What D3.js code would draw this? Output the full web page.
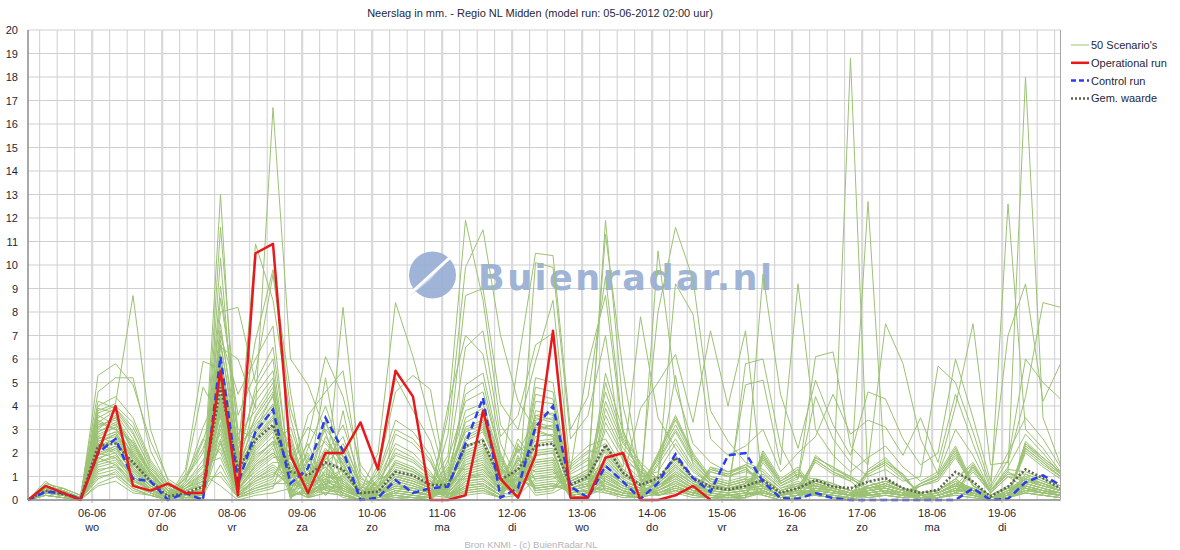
<!DOCTYPE html>
<html>
<head>
<meta charset="utf-8">
<script src="https://cdn.jsdelivr.net/npm/d3@7"></script>
<style>
body { margin: 0; background: #fff; }
svg { display: block; font-family: "Liberation Sans", Arial, sans-serif; }
</style>
</head>
<body>
<svg id="chart" width="1180" height="550"></svg>
<script>
const svg = d3.select("#chart");

const title = "Neerslag in mm. - Regio NL Midden (model run: 05-06-2012 02:00 uur)";
const footer = "Bron KNMI - (c) BuienRadar.NL";
const runStart = new Date(Date.UTC(2012, 5, 5, 2));
const runEnd = new Date(Date.UTC(2012, 5, 19, 20));
const stepHours = 6;

const dayLabels = ["06-06", "07-06", "08-06", "09-06", "10-06", "11-06", "12-06",
                   "13-06", "14-06", "15-06", "16-06", "17-06", "18-06", "19-06"];
const weekdays = ["wo", "do", "vr", "za", "zo", "ma", "di", "wo", "do", "vr", "za", "zo", "ma", "di"];
const yTicks = [0, 1, 2, 3, 4, 5, 6, 7, 8, 9, 10, 11, 12, 13, 14, 15, 16, 17, 18, 19, 20];

const legendNames = ["50 Scenario's", "Operational run", "Control run", "Gem. waarde"];

// operational run (stops after ~10 days)
const operational = [0, 0.6, 0.3, 0, 2.0, 4.0, 0.6, 0.4, 0.7, 0.3, 0.3, 5.5, 0.2, 10.5, 10.9, 1.9, 0.3, 2.0, 2.0, 3.3,
                     1.3, 5.5, 4.4, 0, 0, 0.2, 3.8, 0.9, 0.1, 1.9, 7.2, 0.1, 0.1, 1.8, 2.0, 0, 0, 0.2, 0.6, 0];

const control = [0, 0.35, 0.3, 0.05, 2.0, 2.6, 0.9, 0.8, 0, 0.3, 0, 6.1, 0.7, 2.9, 3.85, 0.7, 1.35, 3.5, 2.1, 0,
                 0.1, 0.85, 0.3, 0.5, 0.57, 2.4, 4.35, 0.1, 0.5, 3.1, 4.0, 0.57, 0.1, 1.45, 0.78, 0.05, 0.72, 1.95, 0.93, 0.35,
                 1.9, 2.0, 0.78, 0.08, 0.05, 0.3, 0.08, 0, 0, 0, 0, 0, 0, 0, 0.5, 0, 0.05, 0.75, 1.05, 0.63];

const meanValues = [0, 0.4, 0.25, 0.05, 2.3, 2.4, 1.6, 0.8, 0.15, 0.3, 0.57, 4.8, 1.3, 2.55, 3.2, 1.2, 1.05, 1.6, 1.3, 0.3,
                    0.35, 1.2, 1.05, 0.64, 0.64, 2.3, 2.5, 0.85, 1.3, 2.3, 2.4, 0.64, 1.0, 2.35, 1.15, 0.64, 0.93, 1.8, 0.93, 0.57,
                    0.43, 0.6, 0.85, 0.3, 0.5, 0.85, 0.57, 0.5, 0.78, 0.93, 0.5, 0.3, 0.43, 1.2, 0.78, 0.15, 0.57, 1.3, 0.93, 0.5];

// 50 scenario values per 6-hour step (one inner array per step)
const scenarioSteps = [
  [0,0,0,0,0,0,0,0,0,0, 0,0,0,0,0,0,0,0,0,0, 0,0,0,0,0,0,0,0,0,0, 0,0,0,0,0,0,0,0,0,0, 0,0,0,0,0,0,0,0,0,0],
  [0.4,0.5,0.3,0.6,0.2,0.4,0.8,0.3,0.5,0.4, 0.3,0.6,0.4,0.2,0.5,0.7,0.3,0.4,0.5,0.3, 0.4,0.2,0.6,0.5,0.3,0.4,0.7,0.4,0.3,0.5, 0.2,0.4,0.5,0.3,0.6,0.4,0.3,0.5,0.4,0.2, 0.5,0.3,0.4,0.6,0.3,0.4,0.5,0.2,0.4,0.3],
  [0.3,0.2,0.4,0.3,0.1,0.5,0.3,0.2,0.4,0.3, 0.2,0.4,0.3,0.1,0.3,0.5,0.2,0.3,0.4,0.2, 0.3,0.1,0.4,0.3,0.2,0.3,0.5,0.3,0.2,0.4, 0.1,0.3,0.4,0.2,0.4,0.3,0.2,0.3,0.3,0.1, 0.4,0.2,0.3,0.4,0.2,0.3,0.4,0.1,0.3,0.2],
  [0,0.1,0,0.1,0,0.2,0,0,0.1,0, 0.1,0,0,0,0.1,0.2,0,0.1,0,0, 0,0,0.1,0,0,0.1,0.2,0,0,0.1, 0,0,0.1,0,0.1,0,0,0.1,0,0, 0.1,0,0,0.1,0,0,0.1,0,0,0],
  [2.5,3.1,1.8,4.2,1.2,2.9,5.3,2.0,3.4,2.2, 1.6,3.8,2.7,0.9,3.0,4.6,1.4,2.4,3.3,1.9, 2.6,0.7,3.6,2.8,1.5,2.1,4.0,2.3,1.7,3.2, 1.1,2.5,3.5,1.8,3.9,2.4,1.3,2.9,2.2,0.6, 3.3,1.9,2.6,3.7,1.6,2.3,3.1,1.0,2.7,2.0],
  [2.8,3.5,2.0,3.9,1.5,3.3,5.8,1.8,3.0,2.6, 1.9,4.1,2.4,1.2,3.6,5.2,1.6,2.1,3.8,2.3, 2.9,1.0,3.2,3.1,1.7,2.5,4.4,2.0,2.2,3.4, 1.3,2.7,3.9,1.5,3.7,2.8,1.4,3.2,2.5,0.8, 3.0,2.2,2.9,4.0,1.8,2.6,3.5,1.1,3.1,2.3],
  [1.5,2.2,0.9,3.1,0.6,1.8,4.9,0.8,2.5,1.4, 1.0,8.7,1.6,0.5,2.0,5.2,0.7,1.2,2.8,1.1, 1.7,0.4,2.4,1.9,0.9,1.3,3.5,1.0,1.4,2.1, 0.6,1.5,2.9,0.8,2.6,1.7,0.7,2.3,1.6,0.3, 2.0,1.2,1.8,3.3,1.0,1.4,2.4,0.5,1.9,1.3],
  [0.7,1.1,0.4,1.5,0.3,0.9,2.5,0.5,1.2,0.6, 0.4,3.0,0.8,0.2,1.0,2.1,0.3,0.6,1.4,0.5, 0.8,0.2,1.1,0.9,0.4,0.6,1.7,0.5,0.7,1.0, 0.3,0.7,1.3,0.4,1.2,0.8,0.3,1.1,0.7,0.2, 0.9,0.5,0.8,1.6,0.4,0.6,1.2,0.2,0.9,0.6],
  [0.2,0.4,0.1,0.5,0,0.3,0.9,0.1,0.4,0.2, 0.1,0.8,0.3,0,0.3,0.6,0.1,0.2,0.5,0.1, 0.3,0,0.4,0.3,0.1,0.2,0.7,0.1,0.2,0.4, 0,0.2,0.5,0.1,0.4,0.3,0,0.3,0.2,0, 0.3,0.1,0.3,0.6,0.1,0.2,0.4,0,0.3,0.2],
  [0.3,0.1,0.5,0.2,0.8,0.1,0.4,1.3,0.2,0.6, 0,0.3,0.9,0.2,0.1,0.4,1.1,0.3,0.2,0.7, 0.1,0.5,0.2,0,0.6,0.3,0.2,0.8,0.1,0.4, 0.7,0.2,0.1,0.5,0,0.3,1.0,0.2,0.4,0.6, 0.1,0.3,0.2,0,0.5,0.9,0.1,0.4,0.2,0.3],
  [0.4,0.2,1.1,0.3,2.5,0.1,0.6,5.9,0.3,1.4, 0.1,0.5,2.0,0.2,0.3,0.8,4.8,0.4,0.2,1.7, 0.1,1.0,0.3,0,1.2,0.4,0.2,3.1,0.1,0.7, 1.5,0.3,0.2,0.9,0,0.5,2.6,0.2,0.6,1.1, 0.1,0.4,0.3,0,0.8,2.2,0.1,0.6,0.3,0.5],
  [4.5,6.2,3.8,7.5,5.0,3.2,9.1,5.6,4.1,6.8, 2.5,13.0,4.8,1.5,5.9,8.0,3.5,4.3,11.6,2.8, 5.2,1.0,6.5,4.0,2.2,3.6,10.3,4.7,3.0,5.4, 1.8,4.4,7.0,2.6,6.0,4.9,2.0,5.5,3.9,0.6, 6.6,3.3,5.1,8.6,2.4,4.2,7.2,1.2,5.8,3.7],
  [0.8,1.5,0.4,2.1,0.6,0.3,3.0,1.0,0.5,1.8, 0.2,0.6,1.2,0.1,1.6,8.2,0.5,0.9,2.5,0.3, 1.3,0.1,6.0,0.7,0.2,0.4,1.4,1.1,0.3,2.2, 0.1,0.8,4.5,0.2,1.9,0.9,0.2,1.7,0.6,0, 2.4,0.4,1.0,3.6,0.2,0.7,2.8,0.1,1.5,0.5],
  [1.8,3.2,1.0,4.5,2.2,0.8,2.6,3.0,1.4,10.9, 0.5,1.9,3.6,0.3,2.8,5.0,1.2,2.4,6.8,0.9, 2.7,0.4,3.9,2.0,0.7,1.5,4.2,2.9,1.1,3.3, 0.6,2.1,6.0,0.8,3.5,2.3,0.5,4.8,1.6,0.2, 3.0,1.3,2.5,5.4,0.9,1.7,3.8,0.4,2.6,1.5],
  [2.5,4.0,1.5,5.5,3.0,1.2,3.5,4.5,2.0,8.5, 0.8,2.4,4.8,0.5,3.8,6.5,1.8,3.2,9.8,1.4, 3.6,0.6,16.7,2.7,1.0,2.2,5.2,3.9,1.6,4.4, 0.9,2.9,7.4,1.1,4.6,3.1,0.7,6.0,2.3,0.3, 4.1,1.9,3.4,9.6,1.3,2.5,5.0,0.6,3.5,2.0],
  [0.3,2.1,0.9,0.2,1.7,0.6,2.4,0.1,1.2,3.5, 1.5,0.4,0.1,2.8,0.7,1.1,1.9,0.3,4.6,0.8, 0.2,1.3,6.0,0.5,2.2,0.1,0.9,0.4,1.6,1.0, 2.6,0.2,0.6,1.8,0,1.4,0.7,0.3,3.1,0.5, 0.9,1.2,0.2,3.9,0.6,2.0,0.1,1.1,0.4,1.3],
  [0.9,0.2,1.6,0.4,3.1,1.0,0.3,2.2,0.1,0.7, 0.5,1.8,0.6,0.2,1.3,0.1,0.8,2.6,0.3,1.5, 0.4,0.1,4.9,1.1,0.2,0.9,1.9,0.6,0.3,3.6, 0.1,1.2,0.7,0.2,1.7,0.5,0.4,1.0,0.8,0.1, 2.0,0.6,0.3,1.4,0.9,0.2,0.5,2.4,0.1,0.7],
  [1.4,0.6,3.0,0.3,2.4,1.9,0.8,4.0,0.5,1.1, 2.7,0.4,1.6,0.9,0.2,1.3,2.1,6.1,0.7,0.5, 1.8,0.3,2.9,1.5,0.6,2.2,0.4,1.0,0.8,4.6, 0.3,1.7,5.2,0.6,2.5,0.9,1.2,0.4,3.4,0.7, 1.0,2.0,0.5,1.4,0.2,0.8,3.3,0.6,1.6,0.9],
  [0.7,1.3,2.1,0.2,1.6,3.2,0.5,1.8,0.3,0.9, 1.5,0.6,0.8,0.3,1.0,0.4,1.9,4.4,0.2,0.6, 1.2,0.5,0.7,2.4,8.2,1.4,0.3,0.8,0.4,5.5, 0.2,2.7,1.0,0.5,1.7,0.6,0.4,3.8,1.2,0.3, 0.9,0.2,2.2,0.5,1.1,0.7,1.5,0.1,0.6,1.3],
  [0.1,0.3,0.6,0,0.2,0.9,0.1,0.5,0,0.2, 0.4,0.1,0.2,0,0.3,0.1,0.7,1.5,0,0.2, 0.3,0.1,0.2,0.8,1.2,0.4,0,0.2,0.1,1.0, 0,0.6,0.3,0.1,0.5,0.2,0.1,0.4,0.3,0, 0.2,0,0.6,0.1,0.3,0.2,0.4,0,0.1,0.3],
  [0.4,0.1,0.3,0.9,0,0.6,0.2,1.1,0.1,0.3, 0.2,0.8,0.1,0.4,0.6,0,0.3,0.5,1.3,0.1, 0.7,0.2,0.1,0.4,0.3,2.0,0.1,0.5,0.2,0.3, 1.5,0.1,0.2,0.6,0,0.4,0.9,0.1,0.3,0.8, 0.1,0.5,0.2,0,1.0,0.3,0.2,0.6,0.4,0.1],
  [1.0,0.3,1.6,2.4,0.2,1.2,0.6,3.4,0.4,0.8, 0.5,1.9,0.3,1.1,2.2,0.1,0.9,1.3,4.6,0.4, 1.5,0.7,0.2,1.0,0.6,8.4,0.3,1.7,0.5,0.9, 5.2,0.2,0.8,1.4,0.1,2.8,1.1,0.4,0.7,2.0, 0.3,1.6,0.5,0.2,3.0,0.9,0.6,1.2,1.0,0.4],
  [0.8,0.2,1.3,2.0,0.1,1.0,0.5,2.9,0.3,0.6, 0.4,1.6,0.2,0.9,1.8,0.1,0.7,1.1,5.3,0.3, 1.2,0.5,0.1,0.8,0.4,6.1,0.2,1.4,0.4,0.7, 3.8,0.1,0.6,1.2,0,2.4,0.9,0.3,0.5,1.7, 0.2,1.3,0.4,0.1,2.6,0.7,0.5,1.0,0.8,0.3],
  [0.5,0.1,0.8,1.2,0,0.6,0.3,1.9,0.2,0.4, 0.2,1.0,0.1,0.5,1.1,0,0.4,0.6,4.7,0.2, 0.7,0.3,0.1,0.5,0.2,3.3,0.1,0.9,0.2,0.4, 2.5,0.1,0.3,0.8,0,1.6,0.6,0.2,0.3,1.0, 0.1,0.8,0.2,0,1.7,0.4,0.3,0.6,0.5,0.2],
  [0.2,0.9,0.4,0.1,1.3,0.3,0.7,0.1,3.6,0.5, 0.1,0.6,1.1,0.2,0.4,0.8,0.1,1.5,0.3,0.6, 0.9,0.2,0.4,0.1,2.8,0.5,1.0,0.2,0.7,0.3, 0.1,1.7,0.5,0.2,0.6,0.1,1.9,0.4,0.8,0.2, 0.5,0.3,4.0,1.2,0.1,0.6,0.3,0.9,0.2,1.4],
  [0.9,2.6,1.5,0.4,3.8,1.1,2.2,0.6,11.9,1.7, 0.3,2.0,3.3,0.8,1.3,4.9,0.5,6.5,1.0,2.5, 3.1,0.7,1.6,0.2,9.9,1.4,2.9,0.5,1.9,1.2, 0.6,4.2,2.3,1.0,3.5,0.4,8.7,1.8,0.9,2.7, 1.5,0.3,7.0,3.0,0.8,2.1,1.1,4.5,0.6,1.3],
  [1.1,3.0,1.8,0.5,4.1,1.3,2.6,0.7,8.5,2.0, 0.4,2.3,3.7,0.9,1.5,5.4,0.6,7.2,1.2,2.9, 3.4,0.8,1.9,0.3,11.5,1.6,3.2,0.6,2.2,1.4, 0.7,4.6,2.6,1.1,3.9,0.5,9.0,2.1,1.0,3.1, 1.7,0.4,6.2,3.3,0.9,2.4,1.3,5.0,0.7,1.5],
  [0.4,1.2,0.7,0.1,1.7,0.5,1.0,0.2,3.2,0.8, 0.1,0.9,1.5,0.3,0.6,2.0,0.2,2.7,0.5,1.1, 1.4,0.3,0.7,0.1,7.0,0.6,1.3,0.2,0.9,0.5, 0.2,1.9,1.0,0.4,1.6,0.1,4.1,0.8,0.3,1.2, 0.6,0.1,2.4,1.3,0.3,0.9,0.4,1.8,0.2,0.5],
  [1.5,0.4,0.9,2.2,0.6,1.7,0.3,1.1,2.0,0.5, 1.9,0.8,0.2,1.3,2.6,0.4,1.0,3.6,0.6,0.3, 0.7,2.4,0.5,1.2,4.2,0.2,0.9,1.8,5.8,0.4, 1.4,0.3,2.1,0.7,0.5,1.6,3.0,0.9,0.2,1.1, 2.3,0.2,0.8,0.4,1.3,0.6,1.7,0.3,0.9,0.5],
  [1.2,3.3,1.9,0.4,4.5,1.4,2.7,0.6,3.5,2.1, 0.3,2.4,3.8,0.9,1.6,5.2,0.5,6.6,1.1,2.9, 3.0,0.8,1.9,0.2,3.0,1.5,3.4,0.5,10.5,1.3, 0.6,4.8,2.5,1.0,3.6,0.4,5.9,2.0,0.9,3.1, 1.7,10.1,3.6,3.2,0.7,2.3,1.2,4.2,0.5,1.6],
  [1.3,3.1,2.0,0.5,4.3,1.5,2.8,0.7,3.3,2.2, 0.4,2.5,3.6,1.0,1.7,5.0,0.6,7.1,1.2,2.7, 3.2,0.9,2.0,0.3,2.7,1.6,3.5,0.6,10.4,1.4, 0.7,4.6,2.6,1.1,3.7,0.5,8.5,2.1,1.0,3.0, 1.8,9.9,3.4,3.0,0.8,2.4,1.3,4.1,0.6,1.7],
  [0.3,0.5,0.1,1.5,0.4,0.2,0.7,0.3,0.6,0.1, 1.3,0.4,0.2,0.8,1.6,0.3,0.5,0.9,0.1,0.4, 0.6,1.2,0.2,0.7,0.3,0.1,0.8,0.4,3.0,0.2, 0.5,0.1,0.6,1.4,0.3,0.7,1.3,0.2,0.4,0.5, 0.1,2.6,0.6,0.3,0.8,1.1,0.2,0.4,0.9,0.3],
  [0.5,0.8,0.2,2.1,0.6,0.3,1.0,0.4,0.9,0.2, 1.8,0.6,0.3,1.1,2.3,0.4,0.7,1.3,0.2,0.6, 0.9,1.7,0.3,1.0,0.4,0.2,1.2,0.6,4.4,0.3, 0.7,0.2,0.9,2.0,0.4,1.0,5.8,0.3,0.6,0.7, 0.2,3.6,0.9,0.4,1.1,1.5,0.3,0.6,1.3,0.4],
  [3.6,1.2,0.5,2.0,0.8,1.5,4.2,0.6,2.3,1.0, 0.4,1.8,5.0,0.9,2.6,0.3,1.4,11.3,0.7,3.9, 1.1,0.5,2.2,11.9,1.6,0.8,4.6,0.4,9.5,1.3, 0.6,3.3,1.0,2.4,0.5,1.7,8.7,0.9,5.4,0.3, 1.9,7.0,0.7,1.2,2.1,0.4,1.5,3.0,0.8,1.1],
  [2.0,0.7,0.3,1.1,0.4,0.8,2.4,0.3,1.2,0.5, 0.2,1.0,2.6,0.5,1.4,0.1,0.8,5.5,0.4,2.2, 0.6,0.3,1.2,4.0,0.9,0.4,2.5,0.2,3.0,0.7, 0.3,1.9,0.6,1.3,0.3,0.9,2.8,0.5,2.9,0.2, 1.0,1.6,0.4,0.7,1.1,0.2,0.8,1.7,0.4,0.6],
  [1.3,0.4,0.1,0.6,0.2,0.5,1.5,0.2,0.7,0.3, 0.1,0.6,1.6,0.3,7.8,0.1,0.5,1.0,0.2,1.4, 0.4,0.2,0.7,0.9,0.5,0.2,1.2,0.1,0.8,0.4, 0.2,1.1,0.3,0.8,0.2,3.9,1.0,0.3,1.5,0.1, 0.6,0.9,0.2,0.4,0.7,0.1,0.5,1.2,0.2,0.3],
  [0.4,0.7,1.9,0.3,0.9,0.2,0.5,0.8,1.7,0.4, 0.6,0.2,0.9,0.3,3.5,0.6,2.0,1.0,10.6,0.5, 0.3,0.8,1.8,0.6,0.2,0.4,0.9,0.3,0.7,1.6, 0.5,0.2,0.8,8.0,0.4,5.0,1.2,0.3,0.6,0.9, 0.2,0.7,0.4,1.9,0.5,0.3,1.0,0.6,0.2,1.5],
  [0.8,1.4,3.4,0.6,1.9,0.4,1.1,1.6,3.0,0.7, 1.2,0.5,1.8,0.6,2.2,1.0,3.6,5.3,4.8,0.9, 0.5,1.5,3.2,1.1,0.4,0.8,1.7,0.6,1.3,2.9, 0.9,0.4,1.5,11.6,0.7,6.2,2.4,0.5,1.2,1.8, 0.3,1.4,0.8,3.5,1.0,0.6,9.2,1.1,0.4,2.6],
  [0.4,0.8,1.9,0.3,1.0,0.2,0.6,0.9,1.7,0.4, 0.7,0.2,1.0,0.3,1.2,0.5,2.0,1.5,2.4,0.5, 0.3,0.8,1.8,0.6,0.2,0.4,1.0,0.3,0.7,1.6, 0.5,0.2,0.8,9.4,0.4,3.3,1.3,0.3,0.7,1.0, 0.1,0.8,0.4,1.9,0.5,0.3,7.9,0.6,0.2,1.4],
  [0.2,0.5,0.8,0.1,0.6,1.3,0.3,0.5,0.9,0.2, 0.4,1.4,0.6,0.2,0.7,0.3,1.0,0.8,1.6,0.3, 0.1,0.5,0.9,0.4,1.2,0.2,0.6,0.1,0.4,0.8, 1.3,0.1,0.5,3.8,0.2,7.2,0.7,1.4,0.3,0.6, 0.1,0.5,0.2,0.9,1.2,0.3,2.6,0.4,0.1,0.7],
  [0.1,0.4,0.6,0.1,0.5,1.1,0.2,0.4,0.7,0.1, 0.3,1.0,0.4,0.1,0.5,0.2,0.8,0.6,1.2,0.2, 0.1,0.4,0.7,0.3,1.0,0.1,0.5,0.1,0.3,0.6, 1.1,0.1,0.4,2.5,0.1,4.0,0.5,1.2,0.2,0.5, 0,0.4,0.2,0.7,1.0,0.2,1.9,0.3,0.1,0.5],
  [0.2,0.5,0.8,0.1,0.6,1.4,0.3,0.5,0.9,0.2, 0.4,1.3,0.6,0.2,0.7,0.3,1.0,0.8,1.5,0.3, 0.1,0.5,0.9,0.4,1.3,5.8,0.6,0.1,0.4,0.8, 1.5,0.1,0.5,1.6,0.2,7.2,0.7,1.4,0.3,4.9, 0.1,0.6,0.2,0.9,1.2,0.3,2.3,0.4,0.1,0.7],
  [0.4,1.9,0.6,0.3,0.8,0.5,0.2,1.7,0.7,0.3, 0.5,0.9,0.2,2.0,1.1,0.4,0.6,0.8,1.2,0.3, 1.8,0.6,0.4,0.9,0.7,6.0,0.3,1.6,0.8,0.2, 1.0,0.4,0.6,1.3,1.9,0.5,9.6,0.7,0.3,5.1, 2.1,0.8,0.4,0.6,0.9,0.3,3.0,0.5,1.8,0.4],
  [0.1,0.8,0.2,0.1,0.3,0.2,0,0.7,0.3,0.1, 0.2,0.4,0,0.8,0.5,0.1,0.2,0.3,0.5,0.1, 0.7,0.2,0.1,0.4,0.3,2.3,0.1,0.6,0.3,0, 0.4,0.1,0.2,0.6,0.8,0.2,4.5,0.3,0.1,1.5, 0.9,0.3,0.1,0.2,0.4,0.1,1.2,0.2,0.7,0.1],
  [0.2,1.2,0.4,0.2,0.5,0.3,0.1,1.1,0.5,0.2, 0.3,0.6,0.1,1.3,0.7,0.2,0.4,0.5,0.8,0.2, 1.1,0.4,0.2,0.6,0.5,0.9,0.2,1.0,0.5,0.1, 0.7,0.2,0.4,0.9,1.3,0.3,2.2,0.4,0.2,9.2, 1.4,0.5,0.2,0.4,0.6,0.2,2.0,0.3,1.1,0.2],
  [0.3,0.6,0.2,0.8,1.8,0.4,0.5,0.2,0.9,1.7, 0.3,0.7,0.5,0.2,0.6,1.9,0.4,0.8,0.3,0.5, 0.7,0.2,0.4,1.6,0.6,6.1,0.3,0.9,0.5,0.2, 0.6,0.4,1.8,4.4,0.3,0.7,5.1,0.2,0.5,3.0, 0.4,0.8,1.7,0.3,0.6,0.5,2.7,0.2,0.7,0.4],
  [0.2,0.5,0.1,0.6,1.4,0.3,0.4,0.1,0.7,1.2, 0.2,0.5,0.4,0.1,0.5,1.3,0.3,0.6,0.2,0.4, 0.5,0.1,0.3,1.1,0.4,6.3,0.2,0.7,0.4,0.1, 0.5,0.3,1.4,2.6,0.2,0.5,3.2,0.1,0.4,1.9, 0.3,0.6,1.2,0.2,0.4,0.3,4.5,0.1,0.5,0.3],
  [0.1,0.3,0.1,0.4,1.0,18.8,0.2,0.1,0.4,0.9, 0.1,0.3,0.2,0,0.3,1.0,0.2,0.4,0.1,0.2, 0.3,0.1,0.2,0.8,0.2,2.3,0.1,0.4,0.2,0, 0.3,0.2,0.9,1.6,0.1,0.3,1.9,0,0.2,1.2, 0.2,0.4,0.8,0.1,0.3,0.2,2.8,0,0.3,0.2],
  [1.2,0.3,0.5,0.2,0.6,0.8,0.3,0.4,0.1,0.5, 1.3,0.2,0.4,0.6,0.2,0.3,0.5,1.2,0.4,0.1, 0.3,0.5,0.2,12.7,0.4,1.5,0.3,0.2,0.6,1.1, 0.4,0.2,0.5,1.0,0.3,0.6,4.6,0.2,0.4,1.8, 0.3,0.5,0.2,0.4,0.1,1.2,3.4,0.3,0.5,0.2],
  [1.7,0.4,0.6,0.3,0.8,0.5,0.4,0.6,0.2,0.7, 1.8,0.3,0.5,0.8,0.3,0.4,0.7,1.6,0.5,0.2, 0.4,0.7,0.3,0.9,0.5,7.5,0.4,0.3,0.8,1.5, 0.5,0.3,0.6,1.3,0.4,0.8,4.3,0.2,0.5,2.3, 0.4,0.7,0.3,0.5,0.2,1.6,3.1,0.4,0.6,0.3],
  [1.1,0.2,0.4,0.2,0.5,0.3,0.2,0.4,0.1,0.4, 1.0,0.2,0.3,0.5,0.2,0.3,0.4,1.1,0.3,0.1, 0.2,0.4,0.2,0.5,0.3,5.8,0.2,0.2,0.5,0.9, 0.3,0.2,0.4,0.8,0.2,0.5,2.6,0.1,0.3,1.4, 0.2,0.4,0.2,0.3,0.1,1.0,1.9,0.2,0.4,0.2],
  [0.1,0.2,0.1,0.7,0.2,0,0.3,0.1,0.2,0.1, 0.2,0.1,0.6,0.2,0.1,0.3,0.1,0.2,0.1,0.7, 0.2,0.1,0.3,0.2,0.1,2.6,0.6,0.2,0.1,0.3, 0.1,0.2,0.1,1.0,0.2,0.3,1.5,0.1,0.7,0.8, 0.1,0.2,0.3,0.1,0.6,0.2,3.5,0.1,0.2,0.1],
  [0.2,0.3,0.1,1.0,0.3,0.1,0.4,0.2,0.3,0.1, 0.3,0.2,0.9,0.3,0.1,0.4,0.2,0.3,0.1,1.1, 0.3,0.2,0.4,0.3,0.2,1.1,0.9,0.2,0.1,0.4, 0.2,0.3,0.1,5.7,0.3,0.4,2.0,0.1,1.0,1.2, 0.2,0.3,0.4,0.1,0.8,0.3,1.6,0.1,0.3,0.2],
  [0.5,0.7,0.3,2.1,0.6,0.2,0.9,0.4,0.7,0.3, 0.6,0.4,2.0,0.7,0.3,0.9,0.5,0.7,0.3,2.3, 0.6,0.4,0.9,0.7,0.5,3.0,1.9,0.4,0.3,0.8, 0.5,0.7,0.3,5.0,0.6,0.9,6.0,0.2,2.2,4.0, 0.4,0.6,0.8,0.3,1.8,0.7,4.5,0.3,0.6,0.5],
  [0.3,0.4,0.2,0.6,0.3,0.1,1.5,0.4,0.3,0.2, 0.5,0.3,0.6,0.2,1.4,0.4,0.3,0.5,0.2,0.7, 0.4,1.3,0.3,0.5,0.2,1.9,0.6,0.3,1.5,0.2, 0.4,0.3,0.2,2.9,0.4,1.6,3.5,0.1,0.6,7.5, 0.3,1.4,0.5,0.2,0.6,0.3,2.4,1.2,0.4,0.3],
  [0.1,0.1,0,0.2,0.1,0,0.4,0.1,0.1,0, 0.1,0.1,0.2,0,0.4,0.1,0,0.2,0.1,0.2, 0.1,0.3,0.1,0.1,0,0.4,0.2,0.1,0.3,0, 0.1,0.1,0,0.6,0.1,0.4,0.8,0,0.2,1.5, 0.1,0.4,0.1,0,0.2,0.1,0.5,0.3,0.1,0.1],
  [0.2,0.3,0.1,0.5,0.2,0.1,1.2,0.3,0.2,0.1, 0.4,0.2,0.5,0.1,1.1,0.3,0.2,12.6,0.1,0.6, 0.3,1.0,0.2,0.4,0.1,1.4,0.5,0.2,1.2,0.1, 0.3,0.2,0.1,2.0,0.3,1.3,7.0,0.1,0.5,1.6, 0.2,1.1,0.4,0.1,0.5,0.2,1.7,1.0,0.3,0.2],
  [0.6,0.9,2.4,0.5,1.1,0.3,0.8,0.6,2.2,0.4, 0.7,1.0,0.5,0.3,0.9,0.6,0.4,3.0,2.5,0.7, 0.3,0.8,0.5,1.0,2.3,2.8,0.6,0.4,18.0,0.5, 0.9,2.1,0.4,3.5,0.7,1.2,9.2,2.4,0.6,4.4, 0.5,1.1,0.8,0.3,0.7,2.0,6.0,0.5,0.9,2.2],
  [0.4,0.7,1.7,0.3,0.8,0.2,0.6,0.4,1.6,0.3, 0.5,0.7,0.3,0.2,0.6,0.4,0.3,2.2,1.8,0.5, 0.2,0.6,0.3,0.7,1.7,2.0,0.4,0.3,3.5,0.4, 0.6,1.5,0.3,2.6,0.5,0.9,4.2,1.8,0.4,8.4, 0.3,0.8,0.6,0.2,0.5,1.4,5.0,0.3,0.7,1.6],
  [0.2,0.4,1.1,0.2,0.5,0.1,0.4,0.2,1.0,0.2, 0.3,0.4,0.2,0.1,0.4,0.3,0.2,1.2,1.2,0.3, 0.1,0.4,0.2,0.5,1.1,1.1,0.3,0.2,1.5,0.2, 0.4,1.0,0.2,1.4,0.3,0.6,5.8,1.2,0.3,8.2, 0.2,0.5,0.4,0.1,0.3,0.9,4.3,0.2,0.4,1.0]
];

const colors = {
  scenario: "#9cc274",
  operational: "#e8191c",
  control: "#2b3df0",
  mean: "#5c6352",
  grid: "#cfcfcf",
  gridDay: "#d9d9d9",
  axis: "#8c8c8c",
  text: "#1f1f3a"
};

const margin = { top: 30, right: 1060.5, bottom: 500, left: 28 };

const stepTime = i => d3.utcHour.offset(runStart, i * stepHours);

const x = d3.scaleUtc()
    .domain([runStart, runEnd])
    .range([margin.left, margin.right]);

const y = d3.scaleLinear()
    .domain([0, 20])
    .range([margin.bottom, margin.top]);

// Grid
const gridHours = d3.utcHour.every(6).range(d3.utcHour.offset(runStart, 1), runEnd);
svg.append("g")
    .selectAll("line")
    .data(yTicks)
    .join("line")
    .attr("x1", margin.left)
    .attr("x2", margin.right)
    .attr("y1", d => y(d))
    .attr("y2", d => y(d))
    .attr("stroke", colors.grid)
    .attr("stroke-width", 1);

svg.append("g")
    .selectAll("line")
    .data(gridHours)
    .join("line")
    .attr("x1", d => x(d))
    .attr("x2", d => x(d))
    .attr("y1", margin.top)
    .attr("y2", d => d.getUTCHours() === 0 ? margin.bottom + 3 : margin.bottom)
    .attr("stroke", d => d.getUTCHours() === 0 ? colors.gridDay : colors.grid)
    .attr("stroke-width", d => d.getUTCHours() === 0 ? 2.2 : 1);

// Watermark logo
const logo = svg.append("g").attr("opacity", 0.95);
logo.append("circle")
    .attr("cx", 432.5)
    .attr("cy", 275)
    .attr("r", 23.5)
    .attr("fill", "#9ab1d4");
logo.append("path")
    .attr("d", "M409,297 L458,249 L430,280 Z")
    .attr("fill", "#c3d3ec");
logo.append("path")
    .attr("d", "M412,292 L456,252")
    .attr("stroke", "#ffffff")
    .attr("stroke-width", 3);
logo.append("text")
    .attr("x", 478)
    .attr("y", 290)
    .attr("textLength", 294)
    .attr("lengthAdjust", "spacing")
    .attr("font-family", "DejaVu Sans, sans-serif")
    .attr("font-weight", "bold")
    .attr("font-size", 35)
    .attr("fill", "#9ab1d4")
    .text("Buienradar.nl");

// Series
const line = d3.line()
    .defined(d => d != null)
    .x((d, i) => x(stepTime(i)))
    .y(d => y(d));

const scenarios = d3.range(50).map(m => scenarioSteps.map(s => s[m]));

svg.append("g")
    .selectAll("path")
    .data(scenarios)
    .join("path")
    .attr("d", d => line(d))
    .attr("fill", "none")
    .attr("stroke", colors.scenario)
    .attr("stroke-width", 1);

svg.append("path")
    .attr("d", line(meanValues))
    .attr("fill", "none")
    .attr("stroke", colors.mean)
    .attr("stroke-width", 2.6)
    .attr("stroke-dasharray", "2,2");

svg.append("path")
    .attr("d", line(control))
    .attr("fill", "none")
    .attr("stroke", colors.control)
    .attr("stroke-width", 2.5)
    .attr("stroke-dasharray", "7,4");

svg.append("path")
    .attr("d", line(operational))
    .attr("fill", "none")
    .attr("stroke", colors.operational)
    .attr("stroke-width", 2.5)
    .attr("stroke-linejoin", "round");

// Axes frame
svg.append("line")
    .attr("x1", margin.left).attr("x2", margin.left)
    .attr("y1", margin.top).attr("y2", margin.bottom)
    .attr("stroke", colors.axis).attr("stroke-width", 1.5);
svg.append("line")
    .attr("x1", margin.left).attr("x2", margin.right)
    .attr("y1", margin.bottom).attr("y2", margin.bottom)
    .attr("stroke", colors.axis).attr("stroke-width", 1.5);
svg.append("line")
    .attr("x1", margin.right).attr("x2", margin.right)
    .attr("y1", margin.top).attr("y2", margin.bottom)
    .attr("stroke", "#a8a8a8").attr("stroke-width", 1);

// Y labels
svg.append("g")
    .selectAll("text")
    .data(yTicks)
    .join("text")
    .attr("x", 18)
    .attr("y", d => y(d) + 4)
    .attr("text-anchor", "end")
    .attr("font-size", 11)
    .attr("fill", colors.text)
    .text(d => d);

// X labels
const dayTimes = dayLabels.map((d, i) => d3.utcDay.offset(d3.utcDay.ceil(runStart), i));
const xLabels = svg.append("g")
    .selectAll("g")
    .data(dayLabels)
    .join("g")
    .attr("transform", (d, i) => `translate(${x(dayTimes[i])},0)`);
xLabels.append("text")
    .attr("y", 517)
    .attr("text-anchor", "middle")
    .attr("font-size", 11)
    .attr("fill", colors.text)
    .text(d => d);
xLabels.append("text")
    .attr("y", 531)
    .attr("text-anchor", "middle")
    .attr("font-size", 11)
    .attr("fill", colors.text)
    .text((d, i) => weekdays[i]);

// Title and footer
svg.append("text")
    .attr("x", 540)
    .attr("y", 17)
    .attr("text-anchor", "middle")
    .attr("font-size", 11)
    .attr("fill", colors.text)
    .text(title);

svg.append("text")
    .attr("x", 531)
    .attr("y", 548)
    .attr("text-anchor", "middle")
    .attr("font-size", 9.5)
    .attr("fill", "#b4b4b4")
    .text(footer);

// Legend
const legendStyles = [
  { color: colors.scenario, width: 1, dash: null },
  { color: colors.operational, width: 2.5, dash: null },
  { color: colors.control, width: 2.5, dash: "5,3" },
  { color: colors.mean, width: 2.5, dash: "2,2" }
];
const legend = svg.append("g")
    .selectAll("g")
    .data(legendNames)
    .join("g")
    .attr("transform", (d, i) => `translate(1070,${45 + i * 17.8})`);
legend.append("line")
    .attr("x1", 1)
    .attr("x2", 19)
    .attr("stroke", (d, i) => legendStyles[i].color)
    .attr("stroke-width", (d, i) => legendStyles[i].width)
    .attr("stroke-dasharray", (d, i) => legendStyles[i].dash);
legend.append("text")
    .attr("x", 21)
    .attr("y", 4)
    .attr("font-size", 11)
    .attr("fill", colors.text)
    .text(d => d);
</script>
</body>
</html>
